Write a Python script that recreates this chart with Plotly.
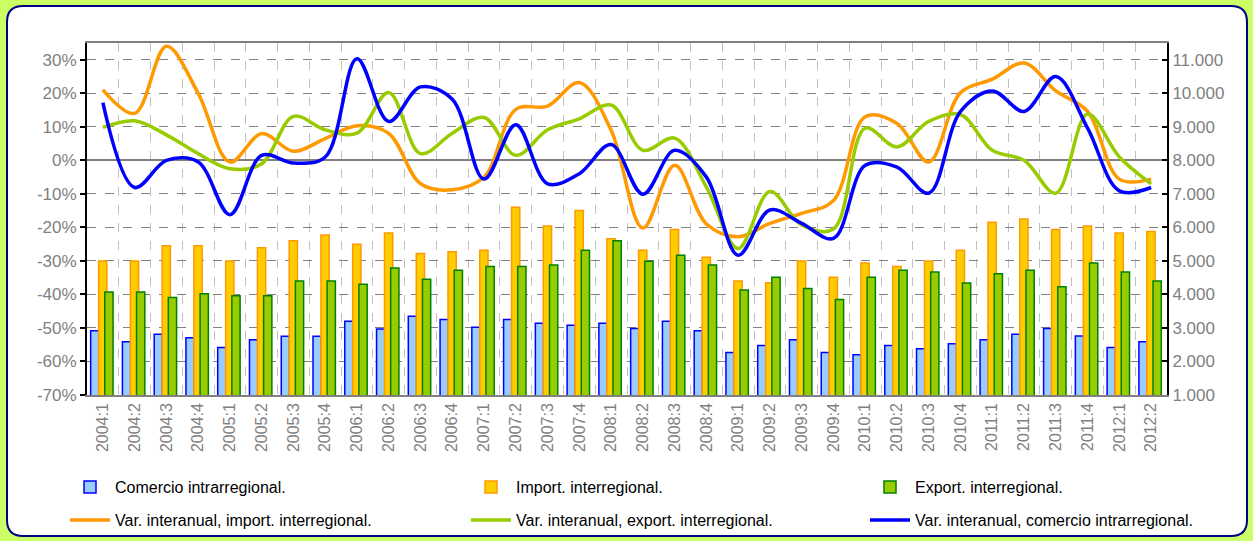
import plotly.graph_objects as go

categories = ["2004:1", "2004:2", "2004:3", "2004:4", "2005:1", "2005:2", "2005:3", "2005:4",
              "2006:1", "2006:2", "2006:3", "2006:4", "2007:1", "2007:2", "2007:3", "2007:4",
              "2008:1", "2008:2", "2008:3", "2008:4", "2009:1", "2009:2", "2009:3", "2009:4",
              "2010:1", "2010:2", "2010:3", "2010:4", "2011:1", "2011:2", "2011:3", "2011:4",
              "2012:1", "2012:2"]

comercio = [2920, 2590, 2810, 2710, 2420, 2650, 2750, 2750, 3200, 2970, 3350, 3250, 3020, 3250,
            3140, 3080, 3140, 2980, 3200, 2920, 2270, 2480, 2650, 2270, 2200, 2480, 2380, 2530,
            2650, 2810, 2980, 2760, 2420, 2590]
importaciones = [5000, 5000, 5450, 5450, 5000, 5390, 5600, 5770, 5500, 5830, 5220, 5270, 5320, 6600,
                 6040, 6500, 5660, 5320, 5940, 5110, 4400, 4350, 5000, 4510, 4940, 4830, 5000, 5320,
                 6150, 6250, 5940, 6040, 5830, 5880]
exportaciones = [4070, 4070, 3910, 4020, 3960, 3960, 4400, 4400, 4300, 4790, 4450, 4720, 4830, 4830,
                 4880, 5320, 5600, 4990, 5170, 4880, 4130, 4510, 4180, 3850, 4510, 4720, 4670, 4340,
                 4620, 4720, 4230, 4940, 4670, 4400]

var_import = [21, 14, 34, 20, -0.5, 8, 2.7, 6.5, 10.3, 8, -7, -8.8, -5, 15.2, 16.2, 23.2, 9, -20.2,
              -1.5, -19, -22.8, -18.8, -15.8, -12, 13, 11, -0.5, 20.2, 24.2, 29, 20.7, 14.6, -5.6, -5.6]
var_export = [9.8, 11.8, 7.6, 2, -2.5, -1, 13.1, 9.1, 8.1, 20.2, 2, 8.1, 12.8, 1.5, 9.1, 12.4, 16.5,
              3, 6.6, -8, -26.3, -9.3, -19.3, -20.5, 9.6, 4, 11.6, 13.6, 3, 0, -9.8, 13.8, 1, -7]
var_comercio = [17.2, -8.1, 0, -0.5, -16.2, 1.5, -0.8, 1, 30.3, 11.6, 21.9, 18.2, -5.6, 10.6, -7, -4,
                4.7, -10.1, 3, -5, -28.3, -14.8, -18.8, -23.3, -1.5, -2, -9.8, 14.6, 20.7, 14.6, 25,
                9.6, -9.1, -8.1]

left_ticks = [-70, -60, -50, -40, -30, -20, -10, 0, 10, 20, 30]
left_labels = ["-70%", "-60%", "-50%", "-40%", "-30%", "-20%", "-10%", "0%", "10%", "20%", "30%"]
right_ticks = [1000, 2000, 3000, 4000, 5000, 6000, 7000, 8000, 9000, 10000, 11000]
right_labels = ["1.000", "2.000", "3.000", "4.000", "5.000", "6.000", "7.000", "8.000", "9.000",
                "10.000", "11.000"]

W, H = 1253, 541
L, R, T, B = 87, 1167, 43, 395
FONT = "Liberation Sans, Arial, sans-serif"
GRAY = "#808080"


def px_x(p):
    return (p - L) / (R - L)


def px_y(p):
    return (B - p) / (B - T)


fig = go.Figure()

# (name, values, fill, edge, offset, legend id, legend column px, legend row top px)
bar_specs = [
    ("Comercio intrarregional.", comercio, "#99CCFF", "#0000FF", -0.385, "legend", 65, 470),
    ("Import. interregional.", importaciones, "#FFCC00", "#FF9900", -0.135, "legend2", 466, 470),
    ("Export. interregional.", exportaciones, "#99CC00", "#008000", 0.06, "legend3", 865, 470),
]
line_specs = [
    ("Var. interanual, import. interregional.", var_import, "#FF9900", "legend4", 65, 503),
    ("Var. interanual, export. interregional.", var_export, "#99CC00", "legend5", 466, 503),
    ("Var. interanual, comercio intrarregional.", var_comercio, "#0000FF", "legend6", 865, 503),
]

legends = {}
for name, vals, fill, edge, off, lg, lx, ly in bar_specs:
    fig.add_trace(go.Bar(
        x=categories, y=vals, name=name, yaxis="y", legend=lg,
        marker=dict(color=fill, line=dict(color=edge, width=1.5)),
        width=0.26, offset=off,
    ))
    legends[lg] = (lx, ly)

for name, vals, col, lg, lx, ly in line_specs:
    fig.add_trace(go.Scatter(
        x=categories, y=vals, name=name, yaxis="y2", legend=lg, mode="lines",
        line=dict(color=col, width=3.5, shape="spline", smoothing=1.0),
    ))
    legends[lg] = (lx, ly)

legend_layout = {}
for lg, (lx, ly) in legends.items():
    legend_layout[lg] = dict(orientation="h", x=px_x(lx), y=px_y(ly), xanchor="left",
                             yanchor="top", bgcolor="rgba(0,0,0,0)", itemwidth=40,
                             font=dict(size=16, color="black", family=FONT))

# rounded white panel
x0, x1, y0, y1, r = 7, 1247, 6, 536, 16
path = (f"M {px_x(x0 + r)},{px_y(y0)} L {px_x(x1 - r)},{px_y(y0)} "
        f"Q {px_x(x1)},{px_y(y0)} {px_x(x1)},{px_y(y0 + r)} "
        f"L {px_x(x1)},{px_y(y1 - r)} Q {px_x(x1)},{px_y(y1)} {px_x(x1 - r)},{px_y(y1)} "
        f"L {px_x(x0 + r)},{px_y(y1)} Q {px_x(x0)},{px_y(y1)} {px_x(x0)},{px_y(y1 - r)} "
        f"L {px_x(x0)},{px_y(y0 + r)} Q {px_x(x0)},{px_y(y0)} {px_x(x0 + r)},{px_y(y0)} Z")

fig.update_layout(
    width=W, height=H,
    margin=dict(l=L, r=W - R, t=T, b=H - B, pad=0, autoexpand=False),
    paper_bgcolor="#CCFF66", plot_bgcolor="white",
    font=dict(family=FONT),
    barmode="overlay",
    showlegend=True,
    shapes=[dict(type="path", xref="paper", yref="paper", path=path,
                 fillcolor="white", line=dict(color="#000080", width=2), layer="below")],
    xaxis=dict(type="category", range=[-0.5, len(categories) - 0.5], tickson="boundaries",
               showgrid=True, gridcolor="#c0c0c0", griddash="dash", gridwidth=1,
               showline=True, linecolor=GRAY, linewidth=1.5, mirror=True,
               ticks="", tickangle=-90, tickfont=dict(size=16, color=GRAY, family=FONT)),
    yaxis=dict(side="right", range=[1000, 11500], tickvals=right_ticks, ticktext=right_labels,
               showgrid=True, gridcolor=GRAY, griddash="dash", gridwidth=1.3, zeroline=False,
               showline=True, linecolor="black", linewidth=2,
               ticks="inside", ticklen=5, tickcolor="black", tickwidth=1.5,
               tickfont=dict(size=17, color=GRAY, family=FONT)),
    yaxis2=dict(overlaying="y", side="left", range=[-70, 35], tickvals=left_ticks,
                ticktext=left_labels, showgrid=False, zeroline=True, zerolinecolor=GRAY,
                zerolinewidth=2, showline=True, linecolor="black", linewidth=2,
                ticks="outside", ticklen=5, tickcolor="black", tickwidth=1.5,
                tickfont=dict(size=17, color=GRAY, family=FONT)),
    **legend_layout,
)

fig.write_html("out.html", config={"displayModeBar": False},
               post_script="document.body.style.margin='0';document.body.style.padding='0';"
                           "document.body.style.background='#CCFF66';")
